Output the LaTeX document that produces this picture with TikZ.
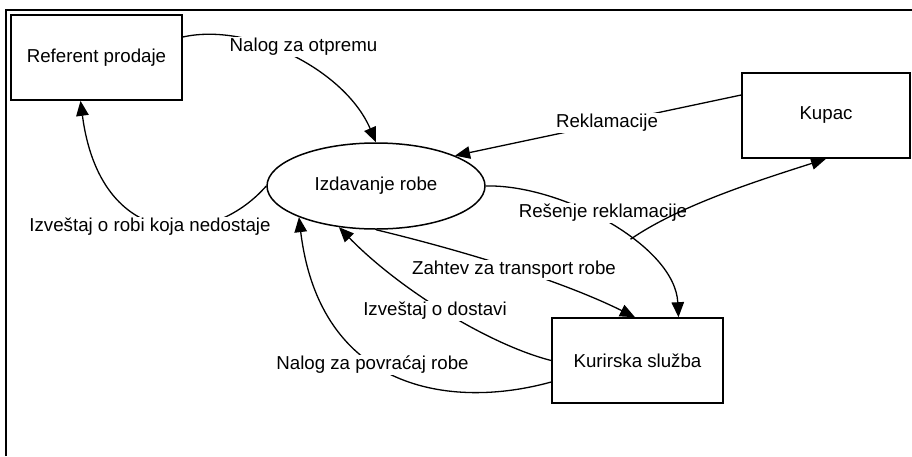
\documentclass[tikz,border=0pt]{standalone}
\usepackage{fontspec}
\setmainfont{Liberation Sans}
\usetikzlibrary{arrows.meta,shapes.geometric,calc}
\begin{document}
\begin{tikzpicture}[x=1pt,y=-1pt,
  every node/.style={font=\fontsize{18.7}{22}\selectfont},
  entity/.style={draw,line width=1.6pt,minimum width=171pt,minimum height=85pt,inner sep=0pt},
  proc/.style={draw,ellipse,line width=1.5pt,minimum width=218pt,minimum height=86pt,inner sep=0pt},
  flow/.style={line width=1.3pt,-{Triangle[length=15pt,width=12.5pt]}},
  lbl/.style={fill=white,inner sep=1.5pt}]
\useasboundingbox (0,0) rectangle (912,456);
\draw[line width=2.5pt] (6,456) -- (6,10) -- (912,10);

\node[entity] (ref) at (96.5,57.5) {Referent prodaje};
\node[entity,minimum width=168pt] (kupac) at (826,115.5) {Kupac};
\node[entity] (kur) at (637.5,360.5) {Kurirska služba};
\node[proc] (ell) at (376,186) {Izdavanje robe};

\draw[flow] ([yshift=20.5pt]ref.east) .. controls (250,22) and (345,70) .. (ell.north);
\draw[flow] (ell.west) .. controls (210,250) and (100,250) .. ([xshift=-16pt]ref.south);
\draw[flow] ([yshift=20.5pt]kupac.west) -- (ell.21);
\draw[flow] (ell.east) .. controls (560,184) and (675,245) .. ([xshift=41pt]kur.north) coordinate[pos=0.6] (br);
\draw[flow] (ell.south) .. controls (460,250) and (560,280) .. ([xshift=-2.5pt]kur.north);
\draw[flow] (kur.west) .. controls (490,345) and (400,290) .. (ell.-132);
\draw[flow] ([yshift=-21.5pt]kur.west) .. controls (450,410) and (320,390) .. (ell.-158);

\node[lbl] (l1) at (303.5,47) {Nalog za otpremu};
\node[lbl] (l2) at (150,227) {Izveštaj o robi koja nedostaje};
\node[lbl] (l3) at (607,123) {Reklamacije};
\node[lbl] (l4) at (603,213) {Rešenje reklamacije};
\node[lbl] (l5) at (514,270) {Zahtev za transport robe};
\node[lbl] (l6) at (435,311) {Izveštaj o dostavi};
\node[lbl] (l7) at (372.5,365) {Nalog za povraćaj robe};

\draw[flow] (br) .. controls (680,205) and (760,180) .. (kupac.south);
\end{tikzpicture}
\end{document}
